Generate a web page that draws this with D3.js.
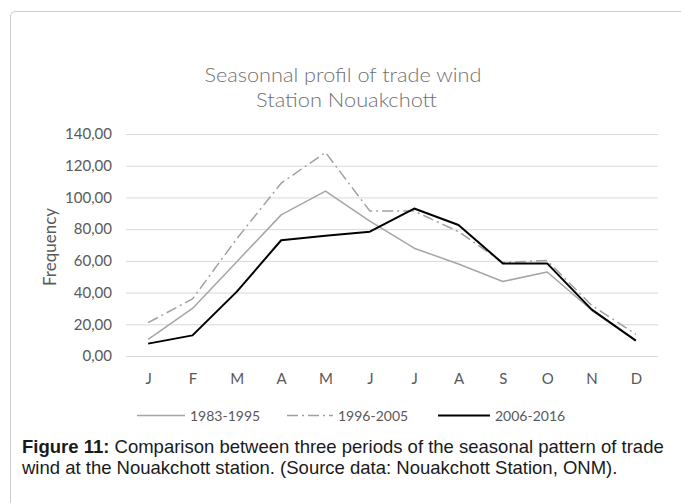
<!DOCTYPE html>
<html>
<head>
<meta charset="utf-8">
<script src="https://cdn.jsdelivr.net/npm/d3@7"></script>
<style>
  body { margin: 0; background: #fff; }
  svg { display: block; }
</style>
</head>
<body>
<svg id="chart" width="681" height="503"></svg>
<script>
// data
var months = ["J", "F", "M", "A", "M", "J", "J", "A", "S", "O", "N", "D"];
var s1983 = [10.5, 30, 59.5, 89, 104, 85, 68, 58, 47, 53, 29, 9.7];
var s1996 = [21, 36, 74, 109, 128.4, 91.4, 91.4, 78.4, 59, 60.2, 32, 13.7];
var s2006 = [7.8, 13, 40.6, 73, 75.9, 78.4, 93, 82.6, 58.4, 58.4, 29.4, 9.7];
var series_names = ["1983-1995", "1996-2005", "2006-2016"];
var y_ticks = [0, 20, 40, 60, 80, 100, 120, 140];

var series = [
  {name: series_names[0], values: s1983, color: "#a5a5a5", width: 1.5, dash: null},
  {name: series_names[1], values: s1996, color: "#a0a0a0", width: 1.5, dash: "11,4,2,4"},
  {name: series_names[2], values: s2006, color: "#000000", width: 2, dash: null}
];

var svg = d3.select("#chart");
var text_gray = "#595959";

// card border (rounded corner top-left, runs off the page)
svg.append("path")
  .attr("d", "M10.5,503 L10.5,17 Q10.5,11.5 16,11.5 L681,11.5")
  .attr("fill", "none")
  .attr("stroke", "#cccccc")
  .attr("stroke-width", 1);

var x = d3.scalePoint()
  .domain(d3.range(months.length))
  .range([126, 658])
  .padding(0.5);

var y = d3.scaleLinear()
  .domain([0, 140])
  .range([356, 134]);

var fmt = function(d) { return d3.format(".2f")(d).replace(".", ","); };

// title
var title = svg.append("text")
  .attr("text-anchor", "middle")
  .attr("font-family", "Lato, 'Open Sans', sans-serif")
  .attr("font-weight", 300)
  .attr("font-size", "20px")
  .attr("fill", "#707070");
title.append("tspan").attr("x", 343).attr("y", 82)
  .attr("textLength", 277).attr("lengthAdjust", "spacingAndGlyphs")
  .text("Seasonnal profil of trade wind");
title.append("tspan").attr("x", 346.5).attr("y", 106.5)
  .attr("textLength", 181).attr("lengthAdjust", "spacingAndGlyphs")
  .text("Station Nouakchott");

// gridlines
svg.append("g").selectAll("line")
  .data(y_ticks)
  .enter().append("line")
  .attr("x1", 126)
  .attr("x2", 658)
  .attr("y1", function(d) { return y(d) + 0.5; })
  .attr("y2", function(d) { return y(d) + 0.5; })
  .attr("stroke", "#d9d9d9")
  .attr("stroke-width", 1);

// y axis labels
var y_axis = svg.append("g")
  .attr("transform", "translate(126,0)")
  .call(d3.axisLeft(y).tickValues(y_ticks).tickFormat(fmt).tickSize(0).tickPadding(14));
y_axis.select(".domain").remove();
y_axis.selectAll("text")
  .attr("font-family", "Lato, sans-serif")
  .attr("font-size", "15px")
  .attr("fill", text_gray);

// x axis labels
var x_axis = svg.append("g")
  .attr("transform", "translate(0,356)")
  .call(d3.axisBottom(x).tickFormat(function(i) { return months[i]; }).tickSize(0).tickPadding(17));
x_axis.select(".domain").remove();
x_axis.selectAll("text")
  .attr("font-family", "Lato, sans-serif")
  .attr("font-size", "15px")
  .attr("fill", text_gray);

// y title
svg.append("text")
  .attr("transform", "translate(56,247) rotate(-90)")
  .attr("text-anchor", "middle")
  .attr("font-family", "Lato, sans-serif")
  .attr("font-size", "17px")
  .attr("fill", text_gray)
  .text("Frequency");

// lines
var line = d3.line()
  .x(function(d, i) { return x(i); })
  .y(function(d) { return y(d); });

for (var k = 0; k < series.length; k++) {
  var s = series[k];
  svg.append("path")
    .datum(s.values)
    .attr("d", line)
    .attr("fill", "none")
    .attr("stroke", s.color)
    .attr("stroke-width", s.width)
    .attr("stroke-dasharray", s.dash)
    .attr("stroke-linejoin", "round");
}

// legend
var legend_x = [137, 287, 438];
var legend_w = [48, 46, 52];
for (var k = 0; k < series.length; k++) {
  var s = series[k];
  var g = svg.append("g").attr("transform", "translate(" + legend_x[k] + ",415)");
  g.append("line")
    .attr("x1", 0).attr("x2", legend_w[k])
    .attr("y1", 0.5).attr("y2", 0.5)
    .attr("stroke", s.color)
    .attr("stroke-width", s.width)
    .attr("stroke-dasharray", s.dash);
  g.append("text")
    .attr("x", legend_w[k] + 5)
    .attr("y", 5.5)
    .attr("font-family", "Lato, sans-serif")
    .attr("font-size", "14px")
    .attr("fill", text_gray)
    .text(s.name);
}

// caption
var cap = svg.append("text")
  .attr("font-family", "'Liberation Sans', Arial, sans-serif")
  .attr("font-size", "18.5px")
  .attr("fill", "#1a1a1a");
var l1 = cap.append("tspan").attr("x", 22).attr("y", 453);
l1.append("tspan").attr("font-weight", "bold").text("Figure 11:");
l1.append("tspan").text(" Comparison between three periods of the seasonal pattern of trade");
cap.append("tspan").attr("x", 22).attr("y", 474)
  .text("wind at the Nouakchott station. (Source data: Nouakchott Station, ONM).");
</script>
</body>
</html>
